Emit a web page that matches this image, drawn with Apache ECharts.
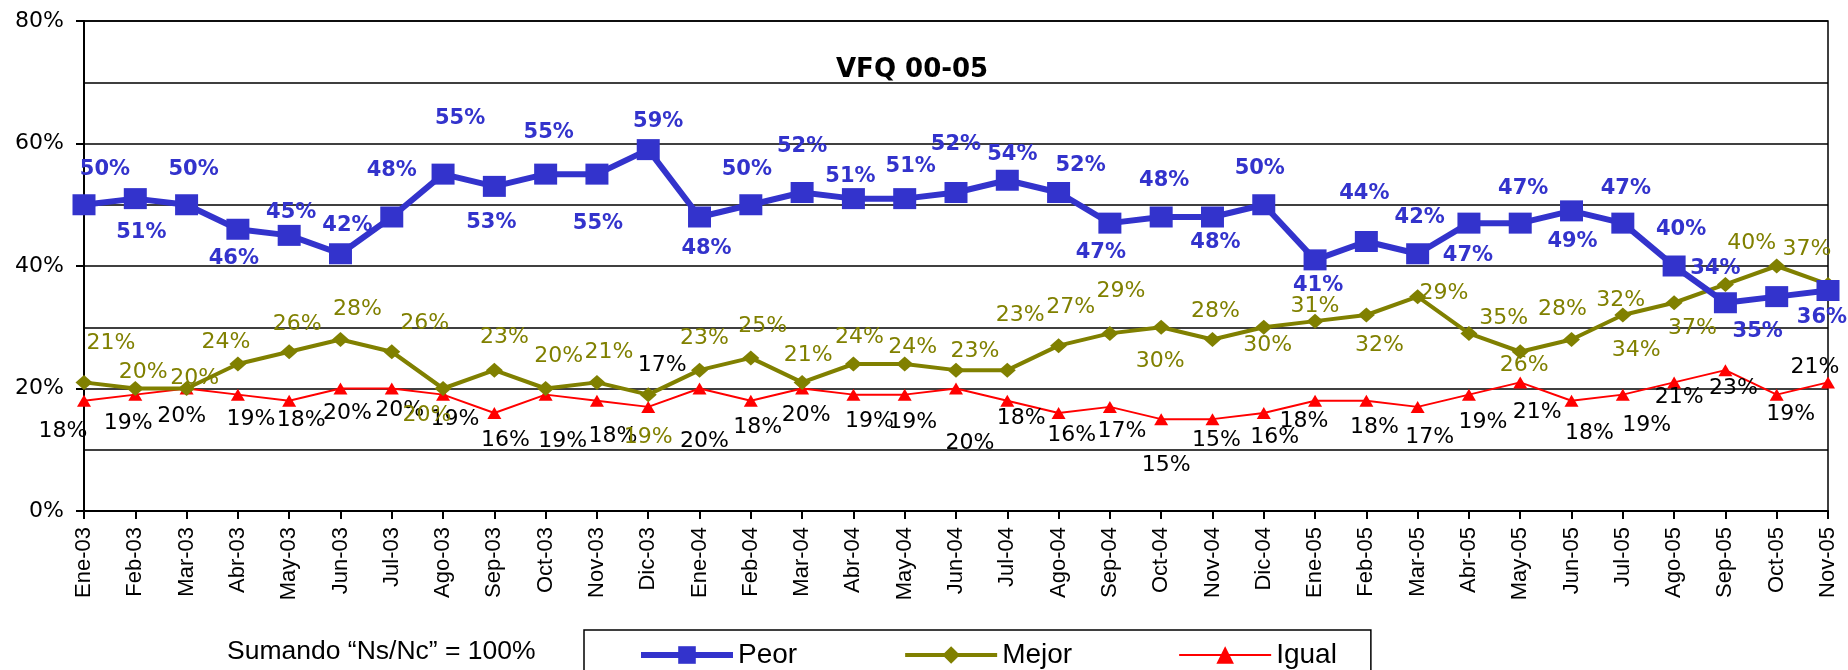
<!DOCTYPE html>
<html><head><meta charset="utf-8">
<script src="https://cdn.jsdelivr.net/npm/echarts@6/dist/echarts.min.js"></script>
<style>html,body{margin:0;padding:0;background:#fff}#c{width:1848px;height:670px}</style>
</head><body><div id="c"></div>
<script>
const categories = ['Ene-03','Feb-03','Mar-03','Abr-03','May-03','Jun-03','Jul-03','Ago-03','Sep-03','Oct-03','Nov-03','Dic-03',
  'Ene-04','Feb-04','Mar-04','Abr-04','May-04','Jun-04','Jul-04','Ago-04','Sep-04','Oct-04','Nov-04','Dic-04',
  'Ene-05','Feb-05','Mar-05','Abr-05','May-05','Jun-05','Jul-05','Ago-05','Sep-05','Oct-05','Nov-05'];
const peor  = [50,51,50,46,45,42,48,55,53,55,55,59, 48,50,52,51,51,52,54,52,47,48,48,50, 41,44,42,47,47,49,47,40,34,35,36];
const mejor = [21,20,20,24,26,28,26,20,23,20,21,19, 23,25,21,24,24,23,23,27,29,30,28,30, 31,32,35,29,26,28,32,34,37,40,37];
const igual = [18,19,20,19,18,20,20,19,16,19,18,17, 20,18,20,19,19,20,18,16,17,15,15,16, 18,18,17,19,21,18,19,21,23,19,21];
const yTickLabels = ['0%','20%','40%','60%','80%'];
const seriesNames = ['Peor','Mejor','Igual'];
const titleText = 'VFQ 00-05';
const noteText = 'Sumando \u201cNs/Nc\u201d = 100%';

// label placement (style only): offsets of each label from its point
const peorDx = [21,6,7,-4,2,7,0,17,-3,3,1, 10,7,-4,0,-3,6,0,5,22,-9,3,3, -4,3,-2,2,-1,3,1,3,7,-10,-19,-6];
const peorDy = [-35,34,-35,29,-23,-28,-46,-56,36,-42,49, -28,32,-35,-46,-22,-32,-48,-26,-27,29,-36,26, -36,26,-48,-36,32,-35,31,-35,-36,-34,35,27];
const mejorDx = [27,8,8,-12,8,17,33,-16,10,13,12, 0,5,12,6,6,8,19,13,12,11,-1,3, 4,0,13,86,-25,4,-9,-2,-38,-33,-25,-21];
const mejorDy = [-39,-16,-10,-22,-27,-30,-28,27,-33,-32,-30, 43,-32,-32,-27,-27,-17,-19,-55,-38,-42,34,-28, 18,-15,30,22,-40,14,-30,-15,48,44,-23,-35];
const igualDx = [-21,-7,-5,13,12,7,8,12,11,17,16, 14,5,7,4,16,8,14,14,13,12,5,4, 11,-11,8,12,14,17,18,24,5,8,14,-13];
const igualDy = [31,29,28,25,20,25,22,25,27,47,36, -42,53,27,27,27,28,55,18,22,24,46,21, 24,21,27,30,28,30,33,31,15,18,20,-15];

const FF = 'DejaVu Sans';
const FA = 'Liberation Sans';
function withLabels(vals, dx, dy) {
  return vals.map((v, i) => ({ value: v, label: { offset: [dx[i], dy[i]] } }));
}
const chart = echarts.init(document.getElementById('c'), null, { renderer: 'canvas' });
chart.setOption({
  animation: false,
  backgroundColor: '#fff',
  textStyle: { fontFamily: FF },
  grid: { left: 84, right: 20, top: 21, bottom: 159, show: true, borderColor: '#000', borderWidth: 1.5, backgroundColor: 'transparent' },
  xAxis: {
    type: 'category', data: categories, boundaryGap: false,
    axisLine: { lineStyle: { color: '#000', width: 2 } },
    axisTick: { show: true, length: 8, interval: 0, alignWithLabel: true, lineStyle: { color: '#000', width: 2 } },
    axisLabel: { rotate: 90, interval: 0, fontSize: 22, color: '#000', margin: 16, fontFamily: FA },
    splitLine: { show: false }
  },
  yAxis: {
    type: 'value', min: 0, max: 80, interval: 20,
    axisLine: { show: true, lineStyle: { color: '#000', width: 2 } },
    axisTick: { show: true, length: 8, lineStyle: { color: '#000', width: 2 } },
    axisLabel: { fontSize: 22, color: '#000', margin: 20, fontFamily: FF, formatter: v => yTickLabels[Math.round(v / 20)] },
    splitLine: { show: true, lineStyle: { color: '#000', width: 1.5 } },
    minorTick: { show: false, splitNumber: 2 },
    minorSplitLine: { show: true, lineStyle: { color: '#000', width: 1.5 } }
  },
  legend: {
    data: [
      { name: seriesNames[0], lineStyle: { width: 6 } },
      { name: seriesNames[1], lineStyle: { width: 4 } },
      { name: seriesNames[2], lineStyle: { width: 2 } }
    ],
    left: 584, top: 630, orient: 'horizontal',
    itemWidth: 92, itemHeight: 22, itemGap: 106,
    padding: [11, 34, 20, 54],
    borderColor: '#000', borderWidth: 1.5, backgroundColor: '#fff',
    textStyle: { fontSize: 28, color: '#000', fontFamily: FA }
  },
  graphic: [
    { type: 'text', left: 911 - 75, top: 57, style: { text: titleText, fontSize: 26, fontWeight: 'bold', fill: '#000', fontFamily: FF } },
    { type: 'text', left: 227, top: 638, style: { text: noteText, fontSize: 26.5, fill: '#000', fontFamily: FA } }
  ],
  series: [
    {
      name: 'Peor', type: 'line', data: withLabels(peor, peorDx, peorDy),
      symbol: 'rect', symbolSize: [23, 21], z: 4,
      lineStyle: { color: '#3333CC', width: 6 }, itemStyle: { color: '#3333CC' },
      label: { show: true, position: 'inside', formatter: '{c}%', fontSize: 21, fontWeight: 'bold', color: '#3333CC', fontFamily: FF }
    },
    {
      name: 'Mejor', type: 'line', data: withLabels(mejor, mejorDx, mejorDy),
      symbol: 'diamond', symbolSize: [17, 15], z: 3,
      lineStyle: { color: '#808000', width: 4 }, itemStyle: { color: '#808000' },
      label: { show: true, position: 'inside', formatter: '{c}%', fontSize: 22, color: '#808000', fontFamily: FF }
    },
    {
      name: 'Igual', type: 'line', data: withLabels(igual, igualDx, igualDy),
      symbol: 'triangle', symbolSize: [14, 12], z: 2,
      lineStyle: { color: '#FF0000', width: 2 }, itemStyle: { color: '#FF0000' },
      label: { show: true, position: 'inside', formatter: '{c}%', fontSize: 22, color: '#000', fontFamily: FF }
    }
  ]
});
</script>
</body></html>
